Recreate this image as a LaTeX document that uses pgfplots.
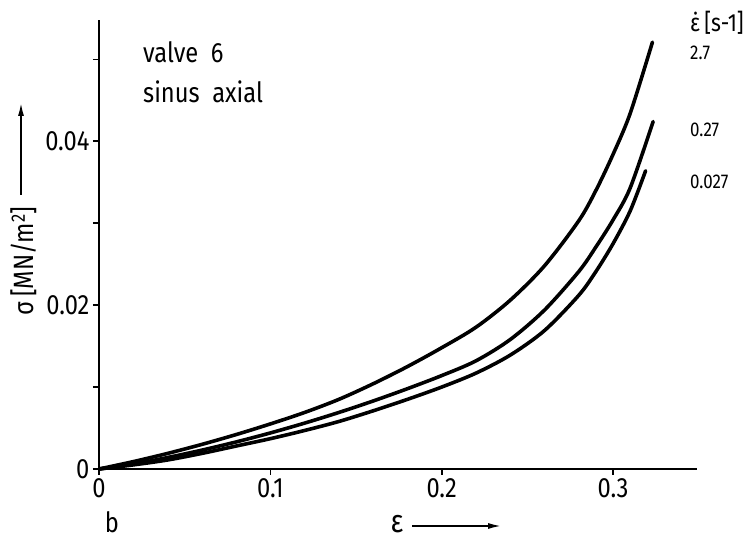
\documentclass[border=0pt]{standalone}
\usepackage{pgfplots}
\pgfplotsset{compat=1.18}
\usepackage{fontspec}
\setmainfont[FakeStretch=0.85]{Fira Sans}
\usetikzlibrary{arrows.meta}
\begin{document}
\begin{tikzpicture}[x=1bp,y=1bp]
\useasboundingbox (-99,-72) rectangle (651,469);
\begin{axis}[
  at={(0,0)}, anchor=south west,
  scale only axis, width=598bp, height=449bp,
  xmin=0, xmax=0.349, ymin=0, ymax=0.0548,
  axis x line=bottom, axis y line=left,
  axis line style={-, line width=2pt},
  xtick={0,0.1,0.2,0.3},
  ytick={0,0.02,0.04}, minor ytick={0.01,0.03,0.05},
  scaled ticks=false,
  tick align=outside, major tick length=6bp, minor tick length=6bp,
  tick style={line width=1.6pt, black},
  /pgf/number format/assume math mode=true,
  /pgf/number format/fixed,
  /pgf/number format/precision=3,
  ticklabel style={font=\fontsize{28}{32}\selectfont},
  clip=false,
]
\addplot[black, line width=3.6pt, smooth, line cap=round] table {
x y
0 0
0.02 0.0009
0.04 0.0019
0.06 0.0030
0.08 0.0042
0.10 0.0055
0.12 0.0069
0.14 0.0085
0.16 0.0104
0.18 0.0125
0.20 0.0148
0.22 0.0173
0.24 0.0206
0.26 0.0248
0.28 0.0303
0.29 0.0340
0.30 0.0384
0.31 0.0434
0.323 0.0521
};
\addplot[black, line width=3.6pt, smooth, line cap=round] table {
x y
0 0
0.02 0.0006
0.04 0.0014
0.06 0.0023
0.08 0.0033
0.10 0.0044
0.12 0.0056
0.14 0.0069
0.16 0.0083
0.18 0.0098
0.20 0.0114
0.22 0.0132
0.24 0.0158
0.26 0.0194
0.28 0.0241
0.29 0.0271
0.30 0.0304
0.31 0.0343
0.3234 0.0424
};
\addplot[black, line width=3.6pt, smooth, line cap=round] table {
x y
0 0
0.02 0.0005
0.04 0.0011
0.06 0.0019
0.08 0.0028
0.10 0.0037
0.12 0.0047
0.14 0.0058
0.16 0.0071
0.18 0.0085
0.20 0.0100
0.22 0.0117
0.24 0.0139
0.26 0.0169
0.28 0.0212
0.29 0.0241
0.30 0.0275
0.31 0.0315
0.319 0.0364
};
\end{axis}
\begin{scope}[font=\fontsize{28}{32}\selectfont]
\node[anchor=west, inner sep=0] at (44,417) {valve\ \ 6};
\node[anchor=west, inner sep=0] at (44,377) {sinus\ \ axial};
\node[inner sep=0] at (13,-53) {b};
\node[inner sep=0] at (298,-55) {\fontsize{32}{36}\selectfont ε};
\draw[line width=2pt, -{Latex[length=14pt,width=6pt]}] (313,-57) -- (403,-57);
\node[rotate=90, inner sep=0] at (-75,208) {σ\,[MN/m\textsuperscript{2}]};
\draw[line width=2pt, -{Latex[length=14pt,width=6pt]}] (-78,274) -- (-78,367);
\end{scope}
\begin{scope}[font=\fontsize{20}{24}\selectfont]
\node[anchor=west, inner sep=0] at (591,446) {\fontsize{25}{28}\selectfont ε̇\,[s-1]};
\node[anchor=west, inner sep=0] at (591,416) {2.7};
\node[anchor=west, inner sep=0] at (591,339) {0.27};
\node[anchor=west, inner sep=0] at (591,287) {0.027};
\end{scope}
\end{tikzpicture}
\end{document}
